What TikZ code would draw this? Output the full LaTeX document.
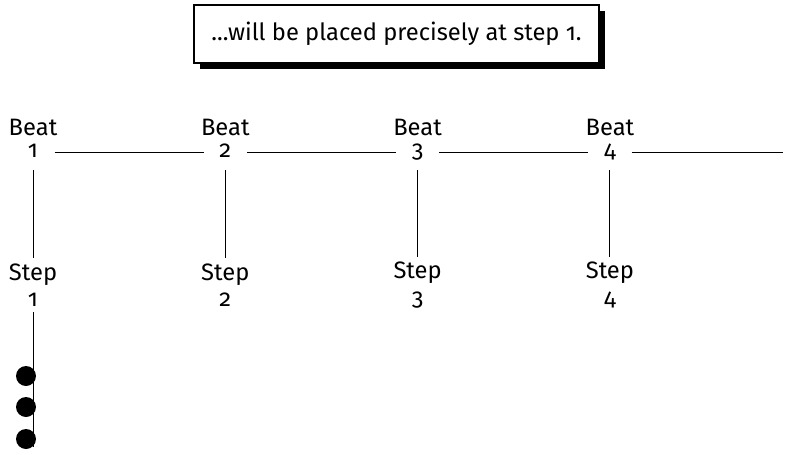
\documentclass[tikz,border=0pt]{standalone}
\usepackage{fontspec}
\setmainfont[Numbers=OldStyle]{Fira Sans}
\usepackage{tikz}
\usetikzlibrary{positioning, shadows}
\definecolor{myink}{RGB}{0,0,0}
\tikzset{
  beatnum/.style={rectangle, minimum width=0.85cm, minimum height=0.7cm,
    inner sep=0pt, text height=0.8em, text depth=0.2em,
    font=\fontsize{13.5}{15.5}\selectfont},
  beatlabel/.style={inner sep=0pt, font=\fontsize{13.5}{15.5}\selectfont},
  stepnode/.style={align=center, inner sep=0.1cm,
    font=\fontsize{13.5}{15}\selectfont},
  callout/.style={rectangle, draw=myink, fill=white, line width=0.6pt,
    minimum width=8.1cm, minimum height=1.16cm,
    font=\fontsize{13.5}{16}\selectfont,
    drop shadow={shadow xshift=0.12cm, shadow yshift=-0.12cm,
      opacity=1, fill=myink}},
  dot/.style={circle, fill=myink, minimum size=0.4cm, inner sep=0pt},
  line/.style={line width=0.5pt, color=myink}
}
\begin{document}
\begin{tikzpicture}
  \useasboundingbox (0,0) rectangle (15.7,9.08);
  % Caption
  \node[callout] (note) at (7.93,8.4) {...will be placed precisely at step 1.};
  % Beats and steps
  \foreach \i in {1,...,4} {
    \node[beatnum] (b\i) at ({0.66+(\i-1)*3.846},6.04) {\i};
    \node[beatlabel] (bl\i) at ({0.66+(\i-1)*3.846},6.54) {Beat};
    \node[stepnode] (s\i) at ({0.66+(\i-1)*3.846},3.38) {Step\\\i};
    \draw[line] (b\i) -- (s\i);
  }
  % Time line
  \coordinate (tail) at (15.66,6.04);
  \draw[line] (b1) -- (b2);
  \draw[line] (b2) -- (b3);
  \draw[line] (b3) -- (b4);
  \draw[line] (b4) -- (tail);
  % Notes on step 1
  \coordinate (low) at (0.68,0.14);
  \draw[line] (s1.south) -- (s1.south |- low);
  \node[dot] (d1) at (0.52,1.56) {};
  \node[dot] (d2) at (0.52,0.94) {};
  \node[dot] (d3) at (0.52,0.30) {};
\end{tikzpicture}
\end{document}
